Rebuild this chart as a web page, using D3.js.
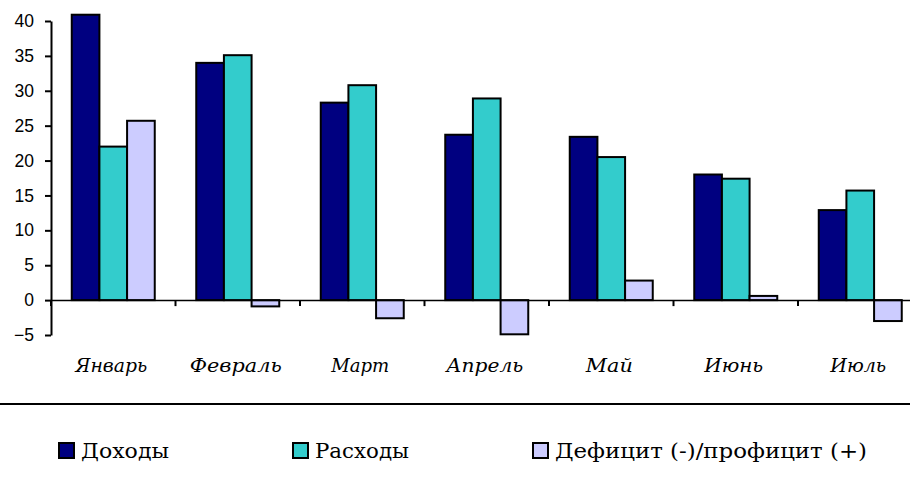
<!DOCTYPE html>
<html><head><meta charset="utf-8">
<script src="https://cdn.jsdelivr.net/npm/d3@7"></script>
<style>body{margin:0;background:#fff;overflow:hidden}svg{display:block}</style>
</head><body>
<svg id="c" width="910" height="493"></svg>
<script>
const months = ["Январь","Февраль","Март","Апрель","Май","Июнь","Июль"];
const seriesNames = ["Доходы","Расходы","Дефицит (-)/профицит (+)"];
const seriesColors = ["#000080","#33CCCC","#CCCCFF"];
const income  = [40.9, 34.0, 28.3, 23.7, 23.4, 18.0, 12.9];
const expense = [22.0, 35.1, 30.8, 28.9, 20.5, 17.4, 15.7];
const balance = [25.7, -0.9, -2.6, -4.9, 2.8, 0.6, -3.0];
const yTicks = [-5, 0, 5, 10, 15, 20, 25, 30, 35, 40];

// layout (text widths as rendered in the reference)
const monthLabelWidths = [72, 92, 58, 77, 47, 59, 56];
const legendLabelWidths = [88, 94, 312];
const legendX = [58, 292, 532];

const seriesValues = [income, expense, balance];
const svg = d3.select("#c");

const x = d3.scaleBand().domain(months).range([51, 922.5]).padding(0);
const xi = d3.scaleBand().domain(d3.range(3)).range([0, x.bandwidth()]).paddingInner(0).paddingOuter(0.75);
const y = d3.scaleLinear().domain([-5, 40]).range([335, 21]);

// bars
const g = svg.append("g");
months.forEach((m, i) => {
  seriesValues.forEach((vals, s) => {
    const v = vals[i];
    g.append("rect")
      .attr("x", x(m) + xi(s))
      .attr("width", xi.bandwidth())
      .attr("y", y(Math.max(0, v)))
      .attr("height", Math.abs(y(v) - y(0)))
      .attr("fill", seriesColors[s])
      .attr("stroke", "#000")
      .attr("stroke-width", 2);
  });
});

// x axis line at 0
const xAxis = d3.axisBottom(x).tickSize(6).tickFormat("").tickSizeOuter(0);
const xg = svg.append("g").attr("transform", `translate(0,${y(0)})`).call(xAxis);
xg.select(".domain").attr("stroke", "#000").attr("stroke-width", 1.5);
xg.selectAll(".tick").remove();
months.forEach(m => {
  xg.append("line").attr("x1", x(m)).attr("x2", x(m)).attr("y1", 0).attr("y2", 6)
    .attr("stroke", "#000").attr("stroke-width", 2);
});

// category labels
svg.append("g").selectAll("text").data(months).join("text")
  .attr("x", d => x(d) + x.bandwidth() / 2 - 2)
  .attr("y", 372)
  .attr("text-anchor", "middle")
  .attr("font-family", "DejaVu Serif")
  .attr("font-style", "italic")
  .attr("font-size", 18.5)
  .attr("textLength", (d, i) => monthLabelWidths[i])
  .attr("lengthAdjust", "spacingAndGlyphs")
  .attr("fill", "#000")
  .text(d => d);

// y axis
const yAxis = d3.axisLeft(y).tickValues(yTicks).tickSize(6).tickSizeOuter(0).tickPadding(11);
const yg = svg.append("g").attr("transform", "translate(51,0)").call(yAxis);
yg.select(".domain").attr("stroke", "#000").attr("stroke-width", 2);
yg.selectAll(".tick line").attr("stroke", "#000").attr("stroke-width", 2);
yg.selectAll(".tick text").attr("font-family", "Liberation Sans, Arial, sans-serif")
  .attr("font-size", 17.5).attr("fill", "#000");

// separator line
svg.append("line").attr("x1", 0).attr("x2", 910).attr("y1", 404).attr("y2", 404)
  .attr("stroke", "#000").attr("stroke-width", 2);

// legend
const lg = svg.append("g");
seriesNames.forEach((n, s) => {
  lg.append("rect").attr("x", legendX[s] + 1).attr("y", 443).attr("width", 15).attr("height", 15)
    .attr("fill", seriesColors[s]).attr("stroke", "#000").attr("stroke-width", 2);
  lg.append("text").attr("x", legendX[s] + 23).attr("y", 458)
    .attr("font-family", "DejaVu Serif").attr("font-size", 20)
    .attr("textLength", legendLabelWidths[s]).attr("lengthAdjust", "spacingAndGlyphs")
    .attr("fill", "#000").text(n);
});
</script>
</body></html>
